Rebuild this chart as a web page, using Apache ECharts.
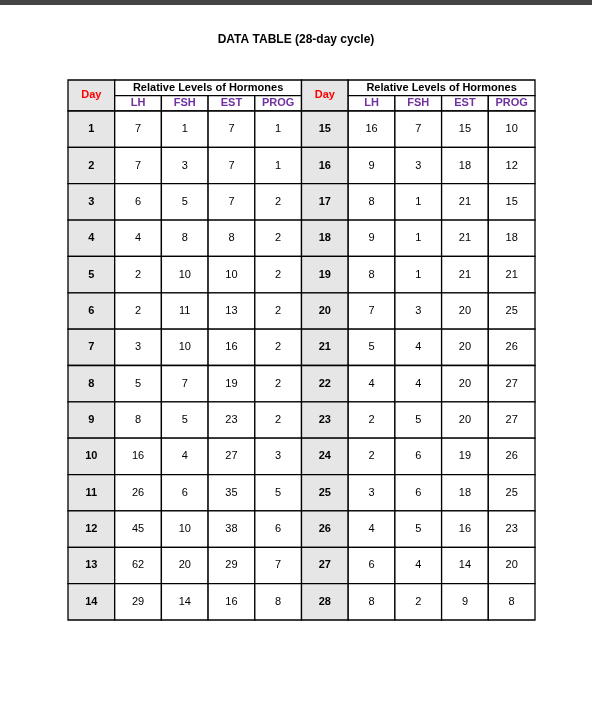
<!DOCTYPE html>
<html><head><meta charset="utf-8">
<script src="https://cdn.jsdelivr.net/npm/echarts@6/dist/echarts.min.js"></script>
<style>html,body{margin:0;padding:0;background:#fff}#c{width:592px;height:709px}</style>
</head><body><div id="c"></div>
<script>
const days = [1,2,3,4,5,6,7,8,9,10,11,12,13,14,15,16,17,18,19,20,21,22,23,24,25,26,27,28];
const LH   = [7,7,6,4,2,2,3,5,8,16,26,45,62,29,16,9,8,9,8,7,5,4,2,2,3,4,6,8];
const FSH  = [1,3,5,8,10,11,10,7,5,4,6,10,20,14,7,3,1,1,1,3,4,4,5,6,6,5,4,2];
const EST  = [7,7,7,8,10,13,16,19,23,27,35,38,29,16,15,18,21,21,21,20,20,20,20,19,18,16,14,9];
const PROG = [1,1,2,2,2,2,2,2,2,3,5,6,7,8,10,12,15,18,21,25,26,27,27,26,25,23,20,8];
const hormones = ['LH','FSH','EST','PROG'];
const title = 'DATA TABLE (28-day cycle)';
const groupLabel = 'Relative Levels of Hormones';
const dayLabel = 'Day';

const H = 0.853, HM = 0.43;
const cells = []; // [x0,x1,y0,y1,text,kind]
for (let half=0; half<2; half++){
  const c0 = half*5;
  cells.push([c0,c0+1,-H,0,dayLabel,'day']);
  cells.push([c0+1,c0+5,-H,-H+HM,groupLabel,'grp']);
  hormones.forEach((h,i)=>cells.push([c0+1+i,c0+2+i,-H+HM,0,h,'sub']));
  for (let r=0;r<14;r++){
    const k = half*14+r;
    cells.push([c0,c0+1,r,r+1,String(days[k]),'dcell']);
    [LH,FSH,EST,PROG].forEach((arr,i)=>cells.push([c0+1+i,c0+2+i,r,r+1,String(arr[k]),'val']));
  }
}
const styles = {
  day:{fill:'#e6e6e6',color:'#ff0000',bold:true,size:11},
  grp:{fill:'#fff',color:'#000',bold:true,size:11},
  sub:{fill:'#fff',color:'#7030a0',bold:true,size:11},
  dcell:{fill:'#e6e6e6',color:'#000',bold:true,size:11},
  val:{fill:'#fff',color:'#000',bold:false,size:11}
};
const chart = echarts.init(document.getElementById('c'));
chart.setOption({
  animation:false,
  title:{text:title,left:'center',top:29,textStyle:{fontFamily:'Liberation Sans',fontSize:12,fontWeight:'bold',color:'#000'}},
  graphic:[{type:'rect',shape:{x:0,y:0,width:592,height:5},style:{fill:'#444'}}],
  grid:{left:68,top:80,width:467,height:540},
  xAxis:{type:'value',min:0,max:10,show:false},
  yAxis:{type:'value',min:-H,max:14,inverse:true,show:false},
  series:[{
    type:'custom',
    data:cells,
    encode:{x:[0,1],y:[2,3]},
    renderItem:(params,api)=>{
      const x0=api.value(0),x1=api.value(1),y0=api.value(2),y1=api.value(3);
      const d=cells[params.dataIndex];
      const s=styles[d[5]];
      const p0=api.coord([x0,y0]),p1=api.coord([x1,y1]);
      return {type:'group',children:[
        {type:'rect',shape:{x:p0[0],y:p0[1],width:p1[0]-p0[0],height:p1[1]-p0[1]},
         style:{fill:s.fill,stroke:'#000',lineWidth:1.3}},
        {type:'text',style:{x:(p0[0]+p1[0])/2,y:(p0[1]+p1[1])/2+(d[5]==='day'?-1:0),text:d[4],
          textAlign:'center',textVerticalAlign:'middle',fill:s.color,
          font:(s.bold?'bold ':'')+s.size+'px "Liberation Sans"'}}
      ]};
    }
  }]
});
</script></body></html>
